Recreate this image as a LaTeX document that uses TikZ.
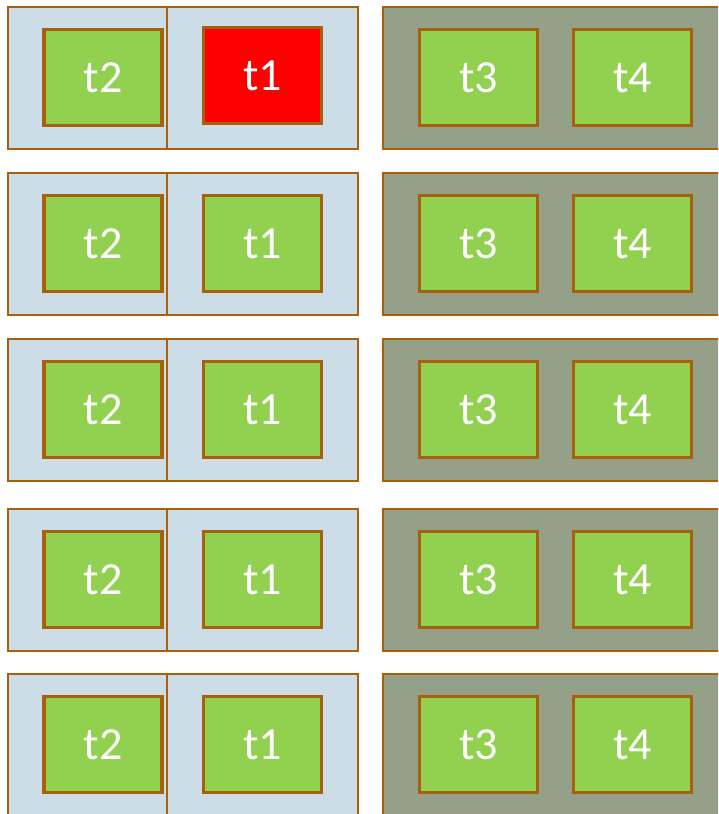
\documentclass[tikz,border=0pt]{standalone}
\usepackage{fontspec}
\setmainfont{Carlito}
\usepackage{xcolor}
\usetikzlibrary{positioning}

\definecolor{edgebrown}{RGB}{168,96,12}
\definecolor{laneblue}{RGB}{204,221,232}
\definecolor{lanegrey}{RGB}{148,160,136}
\definecolor{taskgreen}{RGB}{146,208,80}
\definecolor{taskred}{RGB}{255,0,0}

\tikzset{
  lane/.style={draw=edgebrown, line width=2.8pt},
  task/.style={draw=edgebrown, line width=3.2pt, fill=taskgreen,
    minimum width=118pt, minimum height=96pt, inner sep=0pt,
    text=white, font=\fontsize{46}{46}\selectfont},
  busy/.style={task, fill=taskred},
}

\begin{document}
\begin{tikzpicture}[x=1pt, y=-1pt]
\useasboundingbox (0,0) rectangle (718,814);
\clip (0,0) rectangle (718,814);
\fill[white] (0,0) rectangle (718,814);

% one row per processor
\foreach \top [count=\i] in {7,173,339,509,674} {
    \pgfmathsetmacro{\bot}{\top + 142}
    \pgfmathsetmacro{\mid}{\top + 70.5}
    \draw[lane, fill=laneblue] (8,\top) rectangle (358,\bot);
    \draw[lane] (167,\top) -- (167,\bot);
    \draw[lane, fill=lanegrey] (383,\top) rectangle (730,\bot);
    \node[task] (ttwo\i) at (103,\mid) {t2};
    \ifnum\i=1
      \node[busy] (tone\i) at (262.5,\mid-2) {t1};
    \else
      \node[task] (tone\i) at (262.5,\mid) {t1};
    \fi
    \node[task] (tthree\i) at (478.5,\mid) {t3};
    \node[task] (tfour\i) at (632.5,\mid) {t4};
}
\end{tikzpicture}
\end{document}
